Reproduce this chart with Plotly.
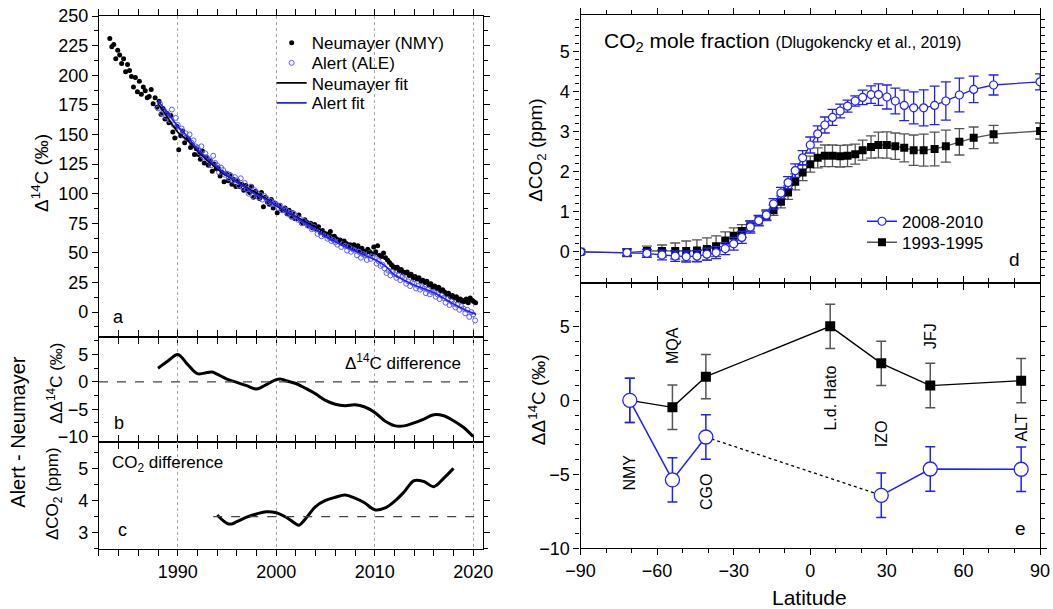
import plotly.graph_objects as go

FONT = "Liberation Sans, Arial, sans-serif"
BLUE = "#1f1fff"
PT_BLUE = "#5c5cff"
GRAY = "#555555"

# ---------------- Panel a: Delta14C records ----------------
NMY_YEAR = [
    1983.1, 1983.3, 1983.5, 1983.7, 1983.9,
    1984.1, 1984.3, 1984.5, 1984.7, 1984.9,
    1985.1, 1985.3, 1985.5, 1985.7, 1985.9,
    1986.1, 1986.3, 1986.5, 1986.7, 1986.9,
    1987.1, 1987.3, 1987.5, 1987.7, 1987.9,
    1988.1, 1988.3, 1988.5, 1988.7, 1988.9,
    1989.1, 1989.3, 1989.5, 1989.7, 1989.9,
    1990.1, 1990.3, 1990.5, 1990.7, 1990.9,
    1991.1, 1991.3, 1991.5, 1991.7, 1991.9,
    1992.1, 1992.3, 1992.5, 1992.7, 1992.9,
    1993.1, 1993.3, 1993.5, 1993.7, 1993.9,
    1994.1, 1994.3, 1994.5, 1994.7, 1994.9,
    1995.1, 1995.3, 1995.5, 1995.7, 1995.9,
    1996.1, 1996.3, 1996.5, 1996.7, 1996.9,
    1997.1, 1997.3, 1997.5, 1997.7, 1997.9,
    1998.1, 1998.3, 1998.5, 1998.7, 1998.9,
    1999.1, 1999.3, 1999.5, 1999.7, 1999.9,
    2000.1, 2000.3, 2000.5, 2000.7, 2000.9,
    2001.1, 2001.3, 2001.5, 2001.7, 2001.9,
    2002.1, 2002.3, 2002.5, 2002.7, 2002.9,
    2003.1, 2003.3, 2003.5, 2003.7, 2003.9,
    2004.1, 2004.3, 2004.5, 2004.7, 2004.9,
    2005.1, 2005.3, 2005.5, 2005.7, 2005.9,
    2006.1, 2006.3, 2006.5, 2006.7, 2006.9,
    2007.1, 2007.3, 2007.5, 2007.7, 2007.9,
    2008.1, 2008.3, 2008.5, 2008.7, 2008.9,
    2009.1, 2009.3, 2009.5, 2009.7, 2009.9,
    2010.1, 2010.3, 2010.5, 2010.7, 2010.9,
    2011.1, 2011.3, 2011.5, 2011.7, 2011.9,
    2012.1, 2012.3, 2012.5, 2012.7, 2012.9,
    2013.1, 2013.3, 2013.5, 2013.7, 2013.9,
    2014.1, 2014.3, 2014.5, 2014.7, 2014.9,
    2015.1, 2015.3, 2015.5, 2015.7, 2015.9,
    2016.1, 2016.3, 2016.5, 2016.7, 2016.9,
    2017.1, 2017.3, 2017.5, 2017.7, 2017.9,
    2018.1, 2018.3, 2018.5, 2018.7, 2018.9,
    2019.1, 2019.3, 2019.5, 2019.7, 2019.9,
    2020.05, 2020.25,
]
NMY_D14C = [
    231, 224, 226, 214, 221,
    217, 210, 214, 203, 209,
    204, 199, 190, 198, 186,
    195, 184, 190, 187, 181,
    182, 188, 176, 181, 173,
    178, 167, 172, 163, 168,
    160, 166, 152, 147, 157,
    137, 149, 153, 143, 147,
    146, 139, 141, 133, 138,
    133, 129, 136, 126, 131,
    124, 128, 119, 125, 121,
    122, 115, 118, 110, 117,
    111, 116, 108, 112, 106,
    111, 106, 108, 103, 107,
    103, 101, 106, 97, 102,
    99, 96, 101, 89, 97,
    93, 91, 95, 88, 92,
    84, 90, 87, 86, 88,
    83, 86, 81, 84, 79,
    79, 82, 77, 75, 78,
    76, 73, 75, 71, 74,
    70, 72, 67, 69, 65,
    66, 64, 68, 62, 64,
    62, 60, 61, 58, 60,
    58, 56, 57, 54, 57,
    53, 56, 52, 54, 51,
    50, 53, 51, 49, 55,
    51, 56, 48, 47, 50,
    46, 44, 42, 40, 38,
    37, 38, 35, 36, 33,
    33, 34, 31, 32, 29,
    30, 28, 29, 26, 27,
    25, 26, 23, 24, 21,
    22, 20, 21, 18, 19,
    17, 15, 16, 13, 14,
    12, 13, 10, 11, 9,
    9, 11, 8, 12, 10,
    9, 8,
]
ALE_YEAR = [
    1988.0, 1988.2, 1988.4, 1988.6, 1988.8,
    1989.0, 1989.2, 1989.4, 1989.6, 1989.8,
    1990.0, 1990.2, 1990.4, 1990.6, 1990.8,
    1991.0, 1991.2, 1991.4, 1991.6, 1991.8,
    1992.0, 1992.2, 1992.4, 1992.6, 1992.8,
    1993.0, 1993.2, 1993.4, 1993.6, 1993.8,
    1994.0, 1994.2, 1994.4, 1994.6, 1994.8,
    1995.0, 1995.2, 1995.4, 1995.6, 1995.8,
    1996.0, 1996.2, 1996.4, 1996.6, 1996.8,
    1997.0, 1997.2, 1997.4, 1997.6, 1997.8,
    1998.0, 1998.2, 1998.4, 1998.6, 1998.8,
    1999.0, 1999.2, 1999.4, 1999.6, 1999.8,
    2000.0, 2000.2, 2000.4, 2000.6, 2000.8,
    2001.0, 2001.2, 2001.4, 2001.6, 2001.8,
    2002.0, 2002.2, 2002.4, 2002.6, 2002.8,
    2003.0, 2003.2, 2003.4, 2003.6, 2003.8,
    2004.0, 2004.2, 2004.4, 2004.6, 2004.8,
    2005.0, 2005.2, 2005.4, 2005.6, 2005.8,
    2006.0, 2006.2, 2006.4, 2006.6, 2006.8,
    2007.0, 2007.2, 2007.4, 2007.6, 2007.8,
    2008.0, 2008.2, 2008.4, 2008.6, 2008.8,
    2009.0, 2009.2, 2009.4, 2009.6, 2009.8,
    2010.0, 2010.2, 2010.4, 2010.6, 2010.8,
    2011.0, 2011.2, 2011.4, 2011.6, 2011.8,
    2012.0, 2012.2, 2012.4, 2012.6, 2012.8,
    2013.0, 2013.2, 2013.4, 2013.6, 2013.8,
    2014.0, 2014.2, 2014.4, 2014.6, 2014.8,
    2015.0, 2015.2, 2015.4, 2015.6, 2015.8,
    2016.0, 2016.2, 2016.4, 2016.6, 2016.8,
    2017.0, 2017.2, 2017.4, 2017.6, 2017.8,
    2018.0, 2018.2, 2018.4, 2018.6, 2018.8,
    2019.0, 2019.2, 2019.4, 2019.6, 2019.8,
    2020.0, 2020.2,
]
ALE_D14C = [
    172, 176, 168, 170, 165,
    167, 162, 171, 158, 164,
    158, 153, 155, 149, 151,
    147, 150, 143, 145, 140,
    139, 135, 140, 131, 134,
    130, 128, 124, 132, 126,
    124, 118, 122, 120, 116,
    117, 113, 115, 111, 114,
    111, 107, 113, 105, 109,
    104, 100, 106, 98, 103,
    101, 97, 99, 95, 98,
    96, 93, 94, 91, 92,
    91, 88, 90, 86, 87,
    86, 83, 84, 80, 83,
    81, 78, 79, 75, 77,
    75, 73, 74, 70, 72,
    70, 66, 69, 64, 67,
    65, 62, 63, 60, 61,
    59, 57, 60, 55, 58,
    56, 52, 55, 51, 53,
    52, 48, 51, 46, 49,
    48, 44, 50, 45, 47,
    46, 41, 43, 39, 40,
    37, 33, 35, 31, 34,
    32, 29, 31, 27, 30,
    28, 24, 26, 22, 25,
    24, 20, 22, 19, 21,
    20, 16, 19, 15, 17,
    17, 13, 15, 11, 14,
    12, 8, 11, 6, 9,
    7, 4, 6, 2, 5,
    3, -1, 2, -4, 0,
    -2, -7,
]
FIT_YEAR = [1988, 1989, 1990, 1991, 1992, 1993, 1994, 1995, 1996, 1997, 1998,
            1999, 2000, 2001, 2002, 2003, 2004, 2005, 2006, 2007, 2008, 2009,
            2010, 2011, 2012, 2013, 2014, 2015, 2016, 2017, 2018, 2019, 2020, 2020.3]
NMY_FIT = [176, 164, 152, 145, 136, 128, 121, 115, 110, 105, 100.5,
           95.5, 90, 85, 80.5, 76, 72, 67.5, 63.5, 59.5, 56, 52.5,
           49.5, 45.5, 39.5, 35, 30.5, 26.5, 22.5, 18, 14, 11, 9, 8]
ALE_FIT = [178.5, 168, 157, 148, 137.5, 129.7, 122.4, 115.5, 110, 104.3, 99.2,
           95, 90.4, 85.2, 80.2, 74.8, 69.8, 64.1, 59.4, 55.2, 51.8, 47.9,
           44.4, 39.4, 31.5, 27, 23, 19.7, 16.5, 11.8, 6.9, 2.7, -1, -2]

# ---------------- Panel b: Delta14C difference ----------------
DIFF_YEAR = [1988, 1989, 1990, 1991, 1992, 1993, 1993.5, 1994, 1995, 1996, 1997,
             1998, 1999, 2000, 2000.5, 2001, 2002, 2003, 2004, 2005, 2006, 2007,
             2008, 2009, 2010, 2011, 2012, 2013, 2014, 2015, 2016, 2017, 2018,
             2019, 2020]
DIFF_D14C = [2.5, 3.8, 5.0, 3.2, 1.5, 1.7, 1.8, 1.4, 0.5, -0.1, -0.7,
             -1.3, -0.5, 0.4, 0.5, 0.2, -0.3, -1.2, -2.2, -3.4, -4.1, -4.35,
             -4.2, -4.6, -5.6, -7.1, -8.0, -8.05, -7.5, -6.8, -6.0, -6.2, -7.1,
             -8.3, -10.0]

# ---------------- Panel c: CO2 difference ----------------
CO2_YEAR = [1994, 1995, 1995.5, 1996, 1997, 1998, 1999, 2000, 2001, 2002, 2002.3,
            2003, 2004, 2005, 2006, 2007, 2008, 2009, 2010, 2011, 2012, 2013,
            2014, 2015, 2016, 2017, 2018]
CO2_DIFF = [3.55, 3.29, 3.27, 3.34, 3.48, 3.58, 3.65, 3.62, 3.48, 3.27, 3.23,
            3.44, 3.81, 4.0, 4.1, 4.17, 4.07, 3.92, 3.71, 3.76, 3.97, 4.27,
            4.62, 4.59, 4.43, 4.69, 5.0]

# ---------------- Panel d: CO2 latitudinal gradient ----------------
LAT_D = [-90, -71.8, -64, -58.1, -52.9, -48.6, -44.4, -40.5, -36.9, -33.3, -30,
         -26.8, -23.5, -20.2, -17.2, -14.4, -11.5, -8.7, -5.9, -3, 0,
         2.9, 5.7, 8.7, 11.7, 14.6, 17.6, 20.5, 23.8, 26.7, 30,
         33.3, 36.8, 40.5, 44.4, 48.7, 53.1, 58.4, 64, 71.8, 90]
CO2_0810 = [0, -0.02, -0.04, -0.08, -0.11, -0.12, -0.11, -0.06, -0.02, 0.08, 0.2,
            0.36, 0.62, 0.78, 0.92, 1.2, 1.47, 1.73, 2.03, 2.35, 2.67,
            2.95, 3.17, 3.36, 3.52, 3.64, 3.77, 3.86, 3.93, 3.93, 3.87,
            3.77, 3.66, 3.6, 3.6, 3.66, 3.77, 3.92, 4.06, 4.17, 4.25]
CO2_0810_ERR = [0.05, 0.07, 0.1, 0.12, 0.13, 0.14, 0.14, 0.15, 0.15, 0.15, 0.16,
                0.15, 0.15, 0.13, 0.13, 0.13, 0.14, 0.15, 0.17, 0.18, 0.2,
                0.2, 0.2, 0.2, 0.17, 0.15, 0.13, 0.18, 0.22, 0.27, 0.3,
                0.32, 0.38, 0.4, 0.45, 0.48, 0.48, 0.42, 0.33, 0.25, 0.2]
CO2_9395 = [0, -0.02, 0.02, 0.02, 0.02, 0.02, 0.03, 0.07, 0.14, 0.28, 0.4,
            0.52, 0.64, 0.78, 0.9, 1.04, 1.25, 1.48, 1.75, 1.98, 2.19,
            2.35, 2.4, 2.4, 2.39, 2.4, 2.44, 2.54, 2.62, 2.67, 2.67,
            2.64, 2.6, 2.54, 2.54, 2.57, 2.64, 2.75, 2.85, 2.94, 3.02]
CO2_9395_ERR = [0.05, 0.1, 0.12, 0.15, 0.2, 0.25, 0.27, 0.28, 0.26, 0.22, 0.2,
                0.16, 0.13, 0.12, 0.12, 0.13, 0.15, 0.17, 0.2, 0.2, 0.2,
                0.25, 0.27, 0.27, 0.27, 0.27, 0.25, 0.25, 0.28, 0.32, 0.33,
                0.33, 0.35, 0.38, 0.4, 0.42, 0.4, 0.33, 0.27, 0.22, 0.2]

# ---------------- Panel e: station DeltaDelta14C ----------------
STATIONS = ["NMY", "MQA", "CGO", "L.d. Hato", "IZO", "JFJ", "ALT"]
LAT_E = [-70.7, -54.0, -40.9, 7.8, 27.8, 47.0, 82.6]
DD14C_9395 = [0.0, -0.47, 1.6, 5.0, 2.5, 1.0, 1.33]
DD14C_9395_ERR = [1.5, 1.5, 1.5, 1.5, 1.5, 1.5, 1.5]
BLUE_STATIONS = ["NMY", "MQA", "CGO", "IZO", "JFJ", "ALT"]
LAT_E_BLUE = [-70.7, -54.0, -40.9, 27.8, 47.0, 82.6]
DD14C_0810 = [0.0, -5.38, -2.48, -6.42, -4.64, -4.66]
DD14C_0810_ERR = [1.5, 1.5, 1.5, 1.5, 1.5, 1.5]
STATION_LABEL_Y = [-4.9, 3.7, -6.2, 0.13, -2.28, 4.37, -1.83]

fig = go.Figure()

# panel a
fig.add_trace(go.Scatter(x=NMY_YEAR, y=NMY_D14C, mode="markers", name="Neumayer (NMY)",
                         marker=dict(symbol="circle", size=5, color="black"),
                         xaxis="x", yaxis="y", legend="legend"))
fig.add_trace(go.Scatter(x=ALE_YEAR, y=ALE_D14C, mode="markers", name="Alert (ALE)",
                         marker=dict(symbol="circle-open", size=5, color=PT_BLUE,
                                     line=dict(width=1)),
                         xaxis="x", yaxis="y", legend="legend3"))
fig.add_trace(go.Scatter(x=FIT_YEAR, y=NMY_FIT, mode="lines", name="Neumayer fit",
                         line=dict(color="black", width=1.6, shape="spline"),
                         xaxis="x", yaxis="y", legend="legend4"))
fig.add_trace(go.Scatter(x=FIT_YEAR, y=ALE_FIT, mode="lines", name="Alert fit",
                         line=dict(color=BLUE, width=1.6, shape="spline"),
                         xaxis="x", yaxis="y", legend="legend5"))

# panel b
fig.add_trace(go.Scatter(x=DIFF_YEAR, y=DIFF_D14C, mode="lines", showlegend=False,
                         line=dict(color="black", width=3, shape="spline"),
                         xaxis="x2", yaxis="y2"))
# panel c
fig.add_trace(go.Scatter(x=CO2_YEAR, y=CO2_DIFF, mode="lines", showlegend=False,
                         line=dict(color="black", width=3, shape="spline"),
                         xaxis="x3", yaxis="y3"))

# panel d
fig.add_trace(go.Scatter(x=LAT_D, y=CO2_9395, mode="lines+markers", name="1993-1995",
                         line=dict(color=GRAY, width=1.3),
                         marker=dict(symbol="square", size=8, color="black"),
                         error_y=dict(type="data", array=CO2_9395_ERR, color=GRAY,
                                      thickness=1.3, width=5),
                         xaxis="x4", yaxis="y4", legend="legend6"))
fig.add_trace(go.Scatter(x=LAT_D, y=CO2_0810, mode="lines+markers", name="2008-2010",
                         line=dict(color=BLUE, width=1.3),
                         marker=dict(symbol="circle", size=8, color="white",
                                     line=dict(color=BLUE, width=1.2)),
                         error_y=dict(type="data", array=CO2_0810_ERR, color=BLUE,
                                      thickness=1.3, width=5),
                         xaxis="x4", yaxis="y4", legend="legend2"))

# panel e
fig.add_trace(go.Scatter(x=[LAT_E_BLUE[2], LAT_E_BLUE[3]], y=[DD14C_0810[2], DD14C_0810[3]],
                         mode="lines", showlegend=False,
                         line=dict(color="black", width=1.3, dash="dot"),
                         xaxis="x5", yaxis="y5"))
fig.add_trace(go.Scatter(x=LAT_E, y=DD14C_9395, mode="lines+markers", showlegend=False,
                         line=dict(color="black", width=1.3),
                         marker=dict(symbol="square", size=10, color="black"),
                         error_y=dict(type="data", array=DD14C_9395_ERR, color=GRAY,
                                      thickness=1.5, width=5),
                         xaxis="x5", yaxis="y5"))
for sl in (slice(0, 3), slice(3, 6)):
    fig.add_trace(go.Scatter(x=LAT_E_BLUE[sl], y=DD14C_0810[sl], mode="lines+markers",
                             showlegend=False,
                             line=dict(color=BLUE, width=1.5),
                             marker=dict(symbol="circle", size=14, color="white",
                                         line=dict(color=BLUE, width=1.3)),
                             error_y=dict(type="data", array=DD14C_0810_ERR[sl], color=BLUE,
                                          thickness=1.5, width=5),
                             xaxis="x5", yaxis="y5"))


def axis(**kw):
    base = dict(showline=True, linecolor="black", linewidth=1.3, mirror="allticks",
                ticks="outside", ticklen=6, tickwidth=1.2, tickcolor="black",
                tickfont=dict(family=FONT, size=18, color="black"),
                showgrid=False, zeroline=False, automargin=False)
    base.update(kw)
    return base


def leg(x, y):
    return dict(x=x, y=y, xanchor="left", yanchor="middle", bgcolor="rgba(0,0,0,0)",
                font=dict(family=FONT, size=17), itemwidth=30)


XL = [0.094, 0.4587]
XR = [0.5513, 0.9877]
time_minor = dict(ticks="outside", ticklen=6, tickwidth=1.1, tickcolor="black", dtick=2, tick0=1990)
time_grid = dict(showgrid=True, gridcolor="#a8a8a8", griddash="dot", gridwidth=1)

fig.update_layout(
    width=1053, height=609,
    margin=dict(l=0, r=0, t=0, b=0, autoexpand=False),
    paper_bgcolor="white", plot_bgcolor="white",
    font=dict(family=FONT, color="black"),
    xaxis=axis(domain=XL, anchor="y", range=[1982, 2021], dtick=10, tick0=1990,
               showticklabels=False, minor=time_minor, **time_grid),
    yaxis=axis(domain=[0.4466, 0.9737], anchor="x", range=[-21, 250], dtick=25,
               minor=dict(ticks="outside", ticklen=4, dtick=12.5, tickcolor="black")),
    xaxis2=axis(domain=XL, anchor="y2", range=[1982, 2021], dtick=10, tick0=1990,
                showticklabels=False, minor=time_minor, **time_grid),
    yaxis2=axis(domain=[0.2742, 0.4466], anchor="x2", range=[-11, 8.2], dtick=5,
                minor=dict(ticks="outside", ticklen=4, dtick=2.5, tickcolor="black")),
    xaxis3=axis(domain=XL, anchor="y3", range=[1982, 2021], dtick=10, tick0=1990,
                minor=time_minor, **time_grid),
    yaxis3=axis(domain=[0.098, 0.2742], anchor="x3", range=[2.48, 5.82], dtick=1,
                minor=dict(ticks="outside", ticklen=4, dtick=0.5, tickcolor="black")),
    xaxis4=axis(domain=XR, anchor="y4", range=[-90, 90], dtick=30, showticklabels=False,
                minor=dict(ticks="outside", ticklen=4, dtick=10, tickcolor="black")),
    yaxis4=axis(domain=[0.5353, 0.9754], anchor="x4", range=[-0.78, 5.92], dtick=1,
                minor=dict(ticks="outside", ticklen=4, dtick=0.2, tickcolor="black")),
    xaxis5=axis(domain=XR, anchor="y5", range=[-90, 90], dtick=30,
                minor=dict(ticks="outside", ticklen=4, dtick=10, tickcolor="black")),
    yaxis5=axis(domain=[0.0997, 0.5353], anchor="x5", range=[-10, 7.93], dtick=5,
                minor=dict(ticks="outside", ticklen=4, dtick=1, tickcolor="black")),
    legend=leg(0.258, 0.9289),
    legend3=leg(0.258, 0.8961),
    legend4=leg(0.258, 0.8632),
    legend5=leg(0.258, 0.8304),
    legend2=leg(0.8186, 0.6360),
    legend6=leg(0.8186, 0.6015),
)

# dashed reference lines
fig.add_shape(type="line", xref="x2", yref="y2", x0=1982, x1=2020.2, y0=0, y1=0,
              line=dict(color="#444444", width=1.3, dash="dash"))
fig.add_shape(type="line", xref="x3", yref="y3", x0=1993.6, x1=2020.2, y0=3.5, y1=3.5,
              line=dict(color="#444444", width=1.3, dash="dash"))

ann = []


def txt(x, y, text, size, xanchor="center", angle=0, xref="paper", yref="paper"):
    ann.append(dict(x=x, y=y, xref=xref, yref=yref, text=text, showarrow=False,
                    xanchor=xanchor, yanchor="middle", textangle=angle,
                    font=dict(family=FONT, size=size, color="black")))


txt(0.038, 0.716, "Δ<sup>14</sup>C (‰)", 19, angle=-90)
txt(0.052, 0.371, "ΔΔ<sup>14</sup>C (‰)", 17, angle=-90)
txt(0.052, 0.190, "ΔCO<sub>2</sub> (ppm)", 17, angle=-90)
txt(0.017, 0.291, "Alert - Neumayer", 20, angle=-90)
txt(0.510, 0.754, "ΔCO<sub>2</sub> (ppm)", 19, angle=-90)
txt(0.510, 0.343, "ΔΔ<sup>14</sup>C (‰)", 19, angle=-90)
txt(0.769, 0.0197, "Latitude", 21)
txt(0.113, 0.4795, "a", 18)
txt(0.113, 0.3054, "b", 18)
txt(0.1168, 0.1297, "c", 18)
txt(0.9639, 0.5747, "d", 19)
txt(0.9687, 0.1325, "e", 19)
txt(0.3257, 0.4056, "Δ<sup>14</sup>C difference", 17, xanchor="left")
txt(0.1045, 0.238, "CO<sub>2</sub> difference", 17, xanchor="left")
txt(0.5717, 0.931, "CO<sub>2</sub> mole fraction <span style='font-size:16px'>(Dlugokencky et al., 2019)</span>",
    21, xanchor="left")
for name, lat, ly in zip(STATIONS, LAT_E, STATION_LABEL_Y):
    txt(lat, ly, name, 16, angle=-90, xref="x5", yref="y5")

fig.update_layout(annotations=ann)
fig.write_html("out.html", config={"displayModeBar": False},
               post_script="document.body.style.margin='0';document.body.style.overflow='hidden';")
